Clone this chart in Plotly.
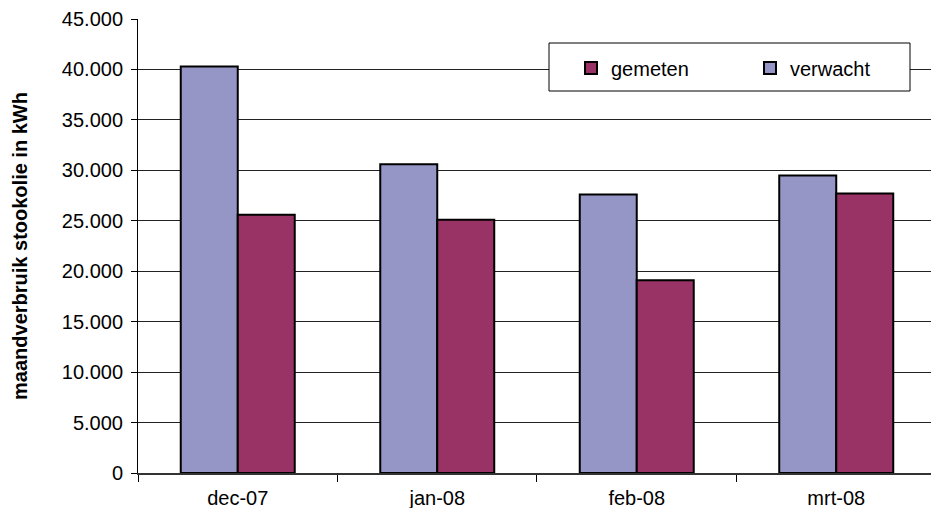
import plotly.graph_objects as go

# Monthly heating-oil consumption, measured vs. expected (kWh)
months = ["dec-07", "jan-08", "feb-08", "mrt-08"]
verwacht = [40300, 30600, 27600, 29500]
gemeten = [25600, 25100, 19100, 27700]
y_ticks = [0, 5000, 10000, 15000, 20000, 25000, 30000, 35000, 40000, 45000]
y_tick_labels = ["0", "5.000", "10.000", "15.000", "20.000", "25.000",
                 "30.000", "35.000", "40.000", "45.000"]

FONT = "Liberation Sans, Arial, sans-serif"
W, H = 931, 508
L, R, T, B = 138, 0, 19, 35
pw = W - L - R
ph = H - T - B


def px_x(v):
    return (v - L) / pw


def px_y(v):
    return (H - B - v) / ph


fig = go.Figure()
fig.add_trace(go.Bar(
    x=months, y=verwacht, name="verwacht", legend="legend2",
    marker=dict(color="#9696C6", line=dict(color="black", width=2)),
))
fig.add_trace(go.Bar(
    x=months, y=gemeten, name="gemeten", legend="legend",
    marker=dict(color="#993366", line=dict(color="black", width=2)),
))

# legend frame (white box hides the gridline behind it)
fig.add_shape(type="rect", xref="paper", yref="paper",
              x0=px_x(549), x1=px_x(910), y0=px_y(91), y1=px_y(43),
              fillcolor="white", line=dict(color="black", width=1), layer="above")

legend_style = dict(
    orientation="h", xanchor="left", yanchor="middle",
    bgcolor="rgba(0,0,0,0)", borderwidth=0,
    font=dict(family=FONT, size=20, color="black"),
)

fig.update_layout(
    width=W, height=H,
    margin=dict(l=L, r=R, t=T, b=B, pad=0),
    paper_bgcolor="white", plot_bgcolor="white",
    barmode="group", bargap=0.4286, bargroupgap=0,
    font=dict(family=FONT, size=20, color="black"),
    showlegend=True,
    legend=dict(x=px_x(571), y=px_y(68), **legend_style),
    legend2=dict(x=px_x(750), y=px_y(68), **legend_style),
    xaxis=dict(
        type="category", range=[-0.5, 3.475],
        tickson="boundaries", ticks="outside", ticklen=7, tickcolor="black",
        ticklabelstandoff=6,
        showline=True, linecolor="#333", linewidth=2,
        showgrid=False, fixedrange=True,
        tickfont=dict(family=FONT, size=20, color="black"),
    ),
    yaxis=dict(
        range=[0, 45000], tickvals=y_ticks, ticktext=y_tick_labels,
        ticks="outside", ticklen=6, tickcolor="black",
        ticklabelstandoff=4,
        showline=True, linecolor="black", linewidth=1,
        showgrid=True, gridcolor="#222", gridwidth=1,
        zeroline=False, fixedrange=True,
        tickfont=dict(family=FONT, size=20, color="black"),
        title=dict(text="<b>maandverbruik stookolie in kWh</b>",
                   font=dict(family=FONT, size=20, color="black"), standoff=28),
    ),
)

fig.write_html("out.html")
